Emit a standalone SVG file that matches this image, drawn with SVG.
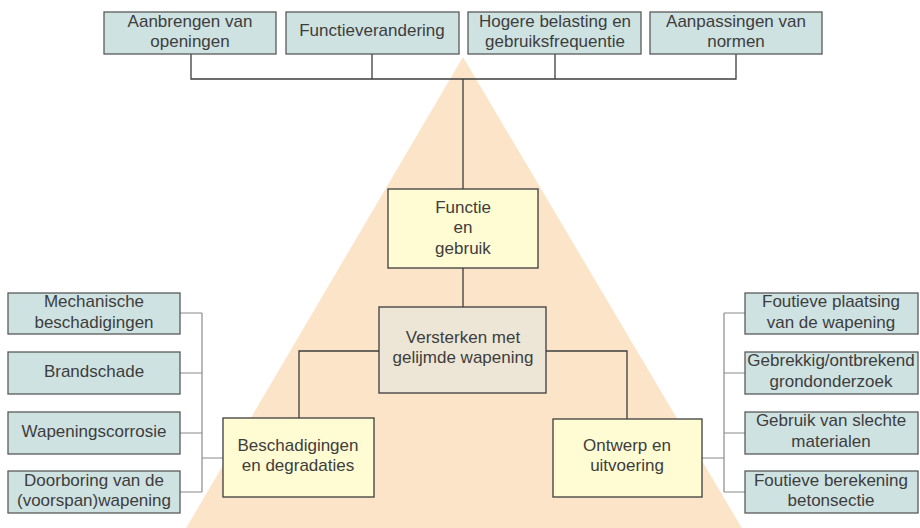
<svg xmlns="http://www.w3.org/2000/svg" width="920" height="528" viewBox="0 0 920 528">
<style>
text{font-family:"Liberation Sans",Arial,sans-serif;font-size:17px;fill:#3d3d3d;text-anchor:middle}
.side{fill:#cfe2e2;stroke:#5a5a5a;stroke-width:1.3}
.yel{fill:#fffbd3;stroke:#3d3d3d;stroke-width:1.3}
.mid{fill:#ede6d6;stroke:#3d3d3d;stroke-width:1.3}
.main{stroke:#3d3d3d;stroke-width:1.3;fill:none}
.thin{stroke:#8a8a8a;stroke-width:1.2;fill:none}
</style>
<rect width="920" height="528" fill="#ffffff"/>
<polygon points="463,57 185,530 743,530" fill="#fce4c8"/>
<g id="connectors">
<path class="main" d="M191,54V79H736V54M372,54V79M555,54V79M463,79V189"/>
<path class="main" d="M463,268V307M379,351H299V418M546,351H627V419"/>
<path class="thin" d="M180,313H202M180,373H202M180,433H202M180,492H202M202,313V492M202,458H223"/>
<path class="thin" d="M745,313H724M745,373H724M745,433H724M745,492H724M724,313V492M724,458H702"/>
</g>
<g id="n-aanbrengen"><rect class="side" x="104" y="12" width="172" height="42"/><text x="190" y="27">Aanbrengen van</text><text x="190" y="47">openingen</text></g>
<g id="n-functieverandering"><rect class="side" x="286" y="12" width="173" height="42"/><text x="372" y="36">Functieverandering</text></g>
<g id="n-hogere"><rect class="side" x="468" y="12" width="173" height="42"/><text x="555" y="27">Hogere belasting en</text><text x="555" y="47">gebruiksfrequentie</text></g>
<g id="n-aanpassingen"><rect class="side" x="650" y="12" width="172" height="42"/><text x="736" y="27">Aanpassingen van</text><text x="736" y="47">normen</text></g>
<g id="n-functie"><rect class="yel" x="388" y="189" width="150" height="79"/><text x="463" y="213">Functie</text><text x="463" y="233">en</text><text x="463" y="254">gebruik</text></g>
<g id="n-versterken"><rect class="mid" x="379" y="307" width="167" height="86"/><text x="463" y="343">Versterken met</text><text x="463" y="363">gelijmde wapening</text></g>
<g id="n-beschadigingen"><rect class="yel" x="223" y="418" width="151" height="79"/><text x="298" y="451">Beschadigingen</text><text x="298" y="471">en degradaties</text></g>
<g id="n-ontwerp"><rect class="yel" x="553" y="419" width="149" height="78"/><text x="627" y="451">Ontwerp en</text><text x="627" y="471">uitvoering</text></g>
<g id="n-mechanische"><rect class="side" x="8" y="293" width="172" height="41"/><text x="94" y="307">Mechanische</text><text x="94" y="328">beschadigingen</text></g>
<g id="n-brandschade"><rect class="side" x="8" y="352" width="172" height="42"/><text x="94" y="377">Brandschade</text></g>
<g id="n-wapeningscorrosie"><rect class="side" x="8" y="412" width="172" height="42"/><text x="94" y="437">Wapeningscorrosie</text></g>
<g id="n-doorboring"><rect class="side" x="8" y="471" width="172" height="42"/><text x="94" y="486">Doorboring van de</text><text x="94" y="506">(voorspan)wapening</text></g>
<g id="n-plaatsing"><rect class="side" x="745" y="293" width="173" height="41"/><text x="831" y="307">Foutieve plaatsing</text><text x="831" y="328">van de wapening</text></g>
<g id="n-gebrekkig"><rect class="side" x="745" y="352" width="173" height="42"/><text x="831" y="366">Gebrekkig/ontbrekend</text><text x="831" y="387">grondonderzoek</text></g>
<g id="n-materialen"><rect class="side" x="745" y="412" width="173" height="42"/><text x="831" y="426">Gebruik van slechte</text><text x="831" y="447">materialen</text></g>
<g id="n-berekening"><rect class="side" x="745" y="471" width="173" height="42"/><text x="831" y="486">Foutieve berekening</text><text x="831" y="506">betonsectie</text></g>
</svg>
